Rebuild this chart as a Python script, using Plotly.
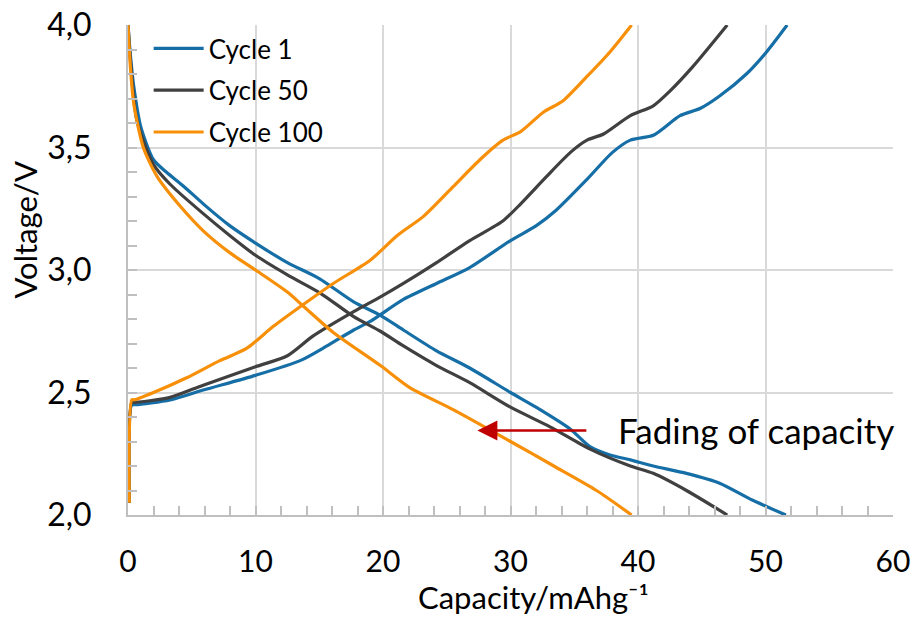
import plotly.graph_objects as go

# ---------------- data ----------------
series_names = ["Cycle 1", "Cycle 50", "Cycle 100"]

c1_charge_x = [0.1, 0.3, 0.6, 3.3, 5.9, 10.0, 13.5, 15.6, 17.7, 19.0, 21.6, 24.2, 26.8, 30.0, 32.0, 33.6, 36.0, 38.0, 39.4, 41.2, 43.3, 44.9, 46.4, 48.5, 50.0, 51.7]
c1_charge_v = [2.05, 2.45, 2.45, 2.47, 2.51, 2.57, 2.63, 2.69, 2.755, 2.79, 2.88, 2.945, 3.01, 3.12, 3.18, 3.245, 3.37, 3.48, 3.53, 3.55, 3.63, 3.66, 3.71, 3.80, 3.885, 4.0]
c1_dis_x = [0, 0.2, 0.45, 1.0, 2.0, 3.0, 4.4, 5.9, 8.0, 10.0, 12.5, 15.0, 17.7, 19.8, 21.6, 24.2, 26.8, 30.0, 32.0, 34.7, 36.2, 37.8, 39.4, 41.2, 43.8, 46.4, 49.0, 51.6]
c1_dis_v = [4.0, 3.87, 3.75, 3.585, 3.45, 3.40, 3.34, 3.27, 3.18, 3.11, 3.03, 2.965, 2.87, 2.815, 2.755, 2.67, 2.60, 2.50, 2.44, 2.35, 2.28, 2.245, 2.225, 2.20, 2.17, 2.13, 2.06, 2.0]

c50_charge_x = [0.1, 0.3, 0.6, 3.3, 5.9, 10.0, 12.5, 14.5, 17.7, 19.8, 21.6, 24.2, 26.8, 29.4, 30.8, 32.8, 34.7, 36.0, 37.3, 39.4, 41.2, 42.5, 44.3, 47.0]
c50_charge_v = [2.05, 2.46, 2.46, 2.48, 2.53, 2.605, 2.65, 2.73, 2.83, 2.89, 2.945, 3.03, 3.12, 3.20, 3.27, 3.38, 3.48, 3.53, 3.555, 3.63, 3.67, 3.73, 3.83, 4.0]
c50_dis_x = [0, 0.2, 0.7, 2.0, 3.3, 5.9, 8.0, 10.0, 12.5, 15.1, 17.7, 19.8, 21.6, 24.2, 26.8, 30.0, 33.1, 36.2, 39.4, 41.2, 43.8, 47.0]
c50_dis_v = [4.0, 3.85, 3.61, 3.43, 3.35, 3.23, 3.14, 3.06, 2.98, 2.905, 2.81, 2.75, 2.69, 2.61, 2.54, 2.44, 2.36, 2.27, 2.20, 2.17, 2.10, 2.0]

c100_charge_x = [0.1, 0.3, 0.5, 2.0, 4.6, 7.2, 9.3, 11.4, 13.5, 16.1, 19.0, 21.1, 23.2, 25.5, 27.6, 29.4, 30.8, 32.6, 34.1, 36.0, 37.8, 39.5]
c100_charge_v = [2.05, 2.47, 2.47, 2.50, 2.56, 2.63, 2.68, 2.77, 2.85, 2.945, 3.04, 3.14, 3.22, 3.34, 3.45, 3.53, 3.565, 3.645, 3.69, 3.79, 3.89, 4.0]
c100_dis_x = [0, 0.2, 0.45, 1.2, 2.3, 4.1, 5.9, 8.0, 10.0, 12.5, 13.8, 16.1, 19.8, 22.1, 25.5, 30.0, 33.4, 36.75, 39.5]
c100_dis_v = [4.0, 3.82, 3.68, 3.50, 3.38, 3.26, 3.16, 3.07, 3.00, 2.91, 2.85, 2.745, 2.61, 2.52, 2.43, 2.30, 2.20, 2.10, 2.0]

x_ticks = [0, 10, 20, 30, 40, 50, 60]
y_ticks = [2.0, 2.5, 3.0, 3.5, 4.0]
y_tick_labels = ["2,0", "2,5", "3,0", "3,5", "4,0"]

x_title = "Capacity/mAhg⁻¹"
y_title = "Voltage/V"
arrow_tip = (27.4, 2.345)
label_left_x = 38.3
arrow_text = "Fading of capacity"

# ---------------- styles ----------------
colors = ["#156EA6", "#404040", "#F79008"]
FONT = "Lato"
GRID = "#D9D9D9"
AXIS = "#BFBFBF"

fig = go.Figure()
all_series = [
    (c1_charge_x, c1_charge_v, c1_dis_x, c1_dis_v),
    (c50_charge_x, c50_charge_v, c50_dis_x, c50_dis_v),
    (c100_charge_x, c100_charge_v, c100_dis_x, c100_dis_v),
]
for i, (name, (cx, cv, dx, dv)) in enumerate(zip(series_names, all_series)):
    line = dict(color=colors[i], width=3.2, shape="spline", smoothing=0.7)
    fig.add_trace(go.Scatter(x=cx, y=cv, mode="lines", name=name, line=line,
                             legendgroup=name, showlegend=True))
    fig.add_trace(go.Scatter(x=dx, y=dv, mode="lines", name=name, line=line,
                             legendgroup=name, showlegend=False))

fig.update_layout(
    width=916, height=618,
    margin=dict(l=128, r=23, t=25, b=103),
    paper_bgcolor="white", plot_bgcolor="white",
    font=dict(family=FONT, color="black"),
    showlegend=True,
    legend=dict(x=0.027, y=1.0, xanchor="left", yanchor="top",
                bgcolor="rgba(255,255,255,0)", font=dict(size=26, family=FONT),
                traceorder="grouped", tracegroupgap=5, itemwidth=50),
)

fig.update_xaxes(
    range=[0, 60], tickvals=x_ticks, ticktext=[str(v) for v in x_ticks],
    showgrid=True, gridcolor=GRID, gridwidth=2,
    showline=True, linecolor=AXIS, linewidth=2,
    ticks="inside", ticklen=9, tickcolor=AXIS, tickwidth=1.5,
    minor=dict(dtick=2, ticks="inside", ticklen=9, tickcolor=AXIS, tickwidth=1.5, showgrid=False),
    tickfont=dict(size=30, family=FONT), ticklabelstandoff=19,
    zeroline=False, automargin=False,
)
fig.update_yaxes(
    range=[2, 4], tickvals=y_ticks, ticktext=y_tick_labels,
    showgrid=True, gridcolor=GRID, gridwidth=2,
    showline=True, linecolor=AXIS, linewidth=2,
    ticks="inside", ticklen=9, tickcolor=AXIS, tickwidth=1.5,
    minor=dict(dtick=0.1, ticks="inside", ticklen=9, tickcolor=AXIS, tickwidth=1.5, showgrid=False),
    tickfont=dict(size=32, family=FONT), ticklabelstandoff=28,
    zeroline=False, automargin=False,
)

# axis titles as annotations
fig.add_annotation(text=x_title, xref="paper", yref="paper",
                   x=0.53, y=-0.2102, xanchor="center", yanchor="bottom",
                   showarrow=False, font=dict(size=31, family=FONT))
fig.add_annotation(text=y_title, xref="paper", yref="paper",
                   x=-0.135, y=0.582, xanchor="center", yanchor="middle", textangle=-90,
                   showarrow=False, font=dict(size=31, family=FONT))

# arrow with its label
fig.add_annotation(x=arrow_tip[0], y=arrow_tip[1], ax=label_left_x, ay=arrow_tip[1],
                   xref="x", yref="y", axref="x", ayref="y", text=arrow_text,
                   xanchor="left", yanchor="middle",
                   showarrow=True, arrowhead=2, arrowsize=1.6, arrowwidth=2.5,
                   arrowcolor="#C00000", startstandoff=30,
                   font=dict(size=35, family=FONT))

fig.write_html("out.html")
